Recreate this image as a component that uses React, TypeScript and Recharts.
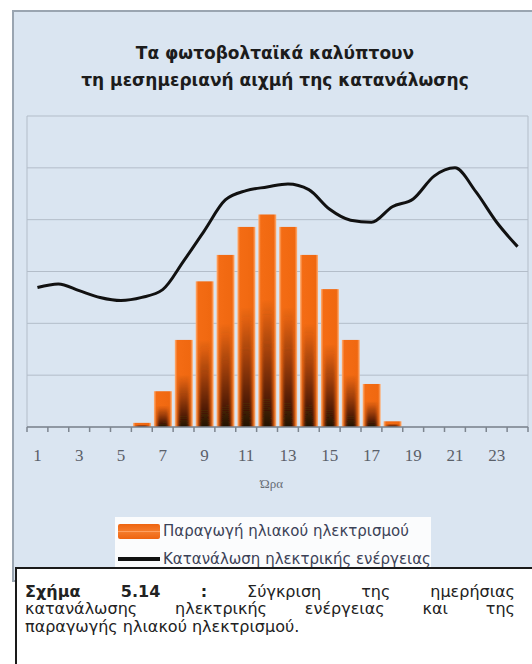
import React from 'react';
import {
  ComposedChart,
  Bar,
  Line,
  XAxis,
  YAxis,
  CartesianGrid,
  Legend,
} from 'recharts';

// Hours of the day (x categories)
const hours = ['1', '2', '3', '4', '5', '6', '7', '8', '9', '10', '11', '12',
  '13', '14', '15', '16', '17', '18', '19', '20', '21', '22', '23', '24'];

// Solar generation per hour (relative units)
const solarGeneration = [0, 0, 0, 0, 0, 8, 69, 168, 281, 332, 386, 410,
  386, 332, 266, 168, 83, 11, 0, 0, 0, 0, 0, 0];

// Electricity consumption per hour (relative units)
const consumption = [269, 276, 263, 250, 244, 250, 265, 320, 379, 438, 456, 463,
  469, 458, 420, 399, 395, 425, 440, 484, 500, 454, 395, 348];

const yTicks = [0, 100, 200, 300, 400, 500, 600];

const SOLAR_NAME = 'Παραγωγή ηλιακού ηλεκτρισμού';
const LOAD_NAME = 'Κατανάλωση ηλεκτρικής ενέργειας';
const seriesOrder = [SOLAR_NAME, LOAD_NAME];

const titleLines = ['Τα φωτοβολταϊκά καλύπτουν', 'τη μεσημεριανή αιχμή της κατανάλωσης'];
const axisTitle = 'Ώρα';
const captionLead = 'Σχήμα 5.14 :';
const captionLines = [
  'Σύγκριση της ημερήσιας',
  'κατανάλωσης ηλεκτρικής ενέργειας και της',
  'παραγωγής ηλιακού ηλεκτρισμού.',
];

const data = hours.map((hour, i) => ({
  hour,
  solar: solarGeneration[i],
  load: consumption[i],
}));

const SANS = '"DejaVu Sans", Verdana, sans-serif';
const SERIF = '"Liberation Serif", "DejaVu Serif", serif';

// Orange bar with light rims and a dark core fading in toward the base
const SunBar = (props: any) => {
  const { x, y, width, height } = props;
  if (!height || height <= 0) return null;
  return (
    <g>
      <rect x={x} y={y} width={width} height={height} fill="url(#barRim)" />
      <rect
        x={x + width * 0.2}
        y={y}
        width={width * 0.6}
        height={height}
        fill="url(#barCore)"
        filter="url(#coreSoft)"
      />
    </g>
  );
};

// Tick marks sit on the category boundaries; every other hour is labelled
const HourTick = (props: any) => {
  const { x, y, payload, index, visibleTicksCount } = props;
  const count = visibleTicksCount || hours.length;
  const band = (props.width || 501) / count;
  const left = x - band / 2;
  return (
    <g>
      <line x1={left} x2={left} y1={y} y2={y + 5} stroke="#7d858f" strokeWidth={1.5} />
      {index === count - 1 && (
        <line x1={x + band / 2} x2={x + band / 2} y1={y} y2={y + 5} stroke="#7d858f" strokeWidth={1.5} />
      )}
      {index % 2 === 0 && (
        <text x={x} y={y + 34} textAnchor="middle" fontFamily={SERIF} fontSize={17} fill="#5a6069">
          {payload.value}
        </text>
      )}
    </g>
  );
};

const LegendBox = (props: any) => {
  const payload = [...(props.payload || [])].sort(
    (a: any, b: any) => seriesOrder.indexOf(a.value) - seriesOrder.indexOf(b.value),
  );
  return (
    <div style={{ background: '#fbfcfd', padding: '0 0 0 3px', height: 51, boxSizing: 'border-box' }}>
      {payload.map((entry: any) => (
        <div key={entry.value} style={{ display: 'flex', alignItems: 'center', height: 28 }}>
          {entry.type === 'line' ? (
            <div style={{ width: 42, height: 4, background: '#111' }} />
          ) : (
            <div
              style={{
                width: 42,
                height: 15,
                background: 'linear-gradient(#ee6410, #f47a2a 45%, #ffa060 50%, #f47a2a 55%, #ee6410)',
                borderRadius: 2,
              }}
            />
          )}
          <span style={{ marginLeft: 3, fontFamily: SANS, fontSize: 15, color: '#3b4257', whiteSpace: 'nowrap' }}>
            {entry.value}
          </span>
        </div>
      ))}
    </div>
  );
};

export default function App() {
  const chartHeight = 560;
  return (
    <div
      style={{
        position: 'absolute',
        left: 0,
        top: 0,
        width: 532,
        height: 664,
        overflow: 'hidden',
        background: '#ffffff',
      }}
    >
      {/* chart frame */}
      <div
        style={{
          position: 'absolute',
          left: 12,
          top: 10,
          width: 540,
          height: 572,
          background: '#dae5f1',
          border: '2px solid #9aa5b1',
          boxSizing: 'border-box',
        }}
      />

      <svg style={{ position: 'absolute', left: 0, top: 0 }} width={532} height={100}>
        {titleLines.map((line, i) => (
          <text
            key={line}
            x={275}
            y={59 + i * 27}
            textAnchor="middle"
            fontFamily={SANS}
            fontWeight="bold"
            fontSize={17}
            fill="#1c1c1c"
          >
            {line}
          </text>
        ))}
      </svg>

      <div style={{ position: 'absolute', left: 0, top: 0 }}>
        <ComposedChart
          width={532}
          height={chartHeight}
          data={data}
          margin={{ top: 116, left: 27, right: 4, bottom: chartHeight - 427 - 66 }}
          barCategoryGap="8%"
        >
          <defs>
            <linearGradient id="barRim" x1="0" y1="0" x2="1" y2="0">
              <stop offset="0" stopColor="#ffb27a" />
              <stop offset="0.14" stopColor="#f46c14" />
              <stop offset="0.86" stopColor="#f06810" />
              <stop offset="1" stopColor="#ffb27a" />
            </linearGradient>
            <linearGradient id="barCore" x1="0" y1="0" x2="0" y2="1">
              <stop offset="0" stopColor="#2a0d00" stopOpacity={0} />
              <stop offset="0.4" stopColor="#2a0d00" stopOpacity={0} />
              <stop offset="1" stopColor="#180700" stopOpacity={0.95} />
            </linearGradient>
            <filter id="coreSoft" x="-0.5" y="0" width="2" height="1">
              <feGaussianBlur stdDeviation="1.6 0" />
            </filter>
          </defs>
          <CartesianGrid
            stroke="#b3bdc9"
            strokeWidth={1}
            verticalCoordinatesGenerator={({ offset }: any) => [offset.left, offset.left + offset.width]}
          />
          <YAxis hide domain={[0, 600]} ticks={yTicks} />
          <XAxis
            dataKey="hour"
            interval={0}
            height={66}
            tickLine={false}
            tickSize={0}
            tickMargin={0}
            axisLine={{ stroke: '#7d858f', strokeWidth: 1.5 }}
            tick={<HourTick />}
            label={{
              value: axisTitle,
              position: 'insideBottom',
              offset: 5,
              dx: -6,
              fontFamily: SERIF,
              fontSize: 13,
              fill: '#666c75',
            }}
          />
          <Bar
            dataKey="solar"
            name={SOLAR_NAME}
            fill="#f06810"
            shape={<SunBar />}
            isAnimationActive={false}
          />
          <Line
            dataKey="load"
            name={LOAD_NAME}
            type="monotone"
            stroke="#111111"
            strokeWidth={3}
            dot={false}
            activeDot={false}
            isAnimationActive={false}
          />
          <Legend
            layout="horizontal"
            align="center"
            verticalAlign="middle"
            content={<LegendBox />}
            wrapperStyle={{ position: 'absolute', left: 115, top: 517, width: 316, height: 51 }}
          />
        </ComposedChart>
      </div>

      {/* figure caption */}
      <div
        style={{
          position: 'absolute',
          left: 15,
          top: 567,
          width: 540,
          height: 120,
          background: '#ffffff',
          border: '2px solid #1a1a1a',
          boxSizing: 'border-box',
          padding: '13.5px 0 0 8px',
          fontFamily: SANS,
          fontSize: 16,
          lineHeight: '17.8px',
          color: '#222',
        }}
      >
        <div style={{ width: 490, textAlign: 'justify', textAlignLast: 'justify' }}>
          <b>{captionLead}</b> {captionLines[0]}
        </div>
        <div style={{ width: 490, textAlign: 'justify', textAlignLast: 'justify' }}>{captionLines[1]}</div>
        <div style={{ width: 490 }}>{captionLines[2]}</div>
      </div>
    </div>
  );
}
